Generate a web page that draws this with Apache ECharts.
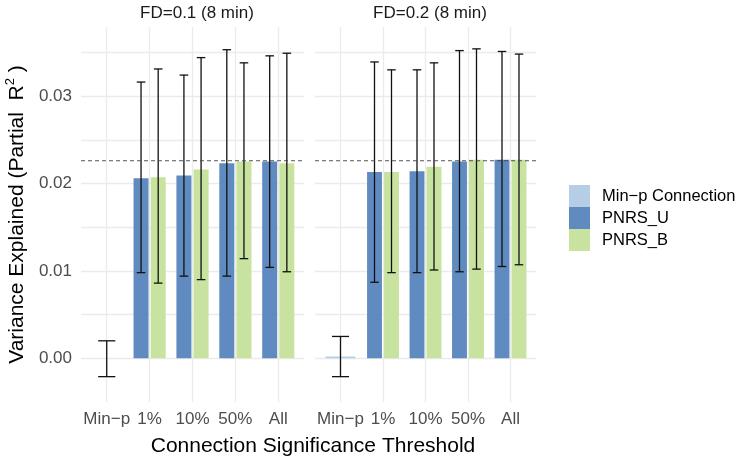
<!DOCTYPE html>
<html>
<head>
<meta charset="utf-8">
<title>Variance explained</title>
<script src="https://cdn.jsdelivr.net/npm/echarts@6/dist/echarts.min.js"></script>
<style>
  *{ margin:0; padding:0; }
  body{ background:#fff; }
  #chart{ width:745px; height:457px; }
</style>
</head>
<body>
<div id="chart"></div>
<script>
// data
var categories = ['Min\u2212p', '1%', '10%', '50%', 'All'];
var facets = ['FD=0.1 (8 min)', 'FD=0.2 (8 min)'];
var seriesNames = ['Min\u2212p Connection', 'PNRS_U', 'PNRS_B'];

// Min-p connection (only at the Min-p category): value, low, high
var minp01 = [0.0000, -0.0021, 0.0020];
var minp02 = [0.0002, -0.0021, 0.0025];

// PNRS at 1%, 10%, 50%, All
var pnrsU01 = [0.0206, 0.0209, 0.0223, 0.0225];
var pnrsU01Lo = [0.0098, 0.0094, 0.0094, 0.0104];
var pnrsU01Hi = [0.0316, 0.0324, 0.0353, 0.0346];
var pnrsB01 = [0.0207, 0.0216, 0.0225, 0.0223];
var pnrsB01Lo = [0.0086, 0.0090, 0.0114, 0.0099];
var pnrsB01Hi = [0.0331, 0.0344, 0.0338, 0.0349];

var pnrsU02 = [0.0213, 0.0214, 0.0225, 0.0227];
var pnrsU02Lo = [0.0087, 0.0098, 0.0099, 0.0105];
var pnrsU02Hi = [0.0339, 0.0330, 0.0352, 0.0351];
var pnrsB02 = [0.0213, 0.0219, 0.0227, 0.0227];
var pnrsB02Lo = [0.0098, 0.0101, 0.0102, 0.0107];
var pnrsB02Hi = [0.0330, 0.0338, 0.0354, 0.0348];

var refLine = 0.0226;

var colors = ['#b5cee5', '#5f8bc0', '#c8e29f'];
var font = 'Liberation Sans, Arial, sans-serif';
var xMin = -0.6, xMax = 4.6;

function barItem(width, cap) {
    return function (params, api) {
        var x = api.value(0), v = api.value(1), lo = api.value(2), hi = api.value(3);
        var p0 = api.coord([x - width / 2, v]);
        var p1 = api.coord([x + width / 2, 0]);
        var top = Math.min(p0[1], p1[1]);
        var h = Math.abs(p1[1] - p0[1]);
        var c = api.coord([x, hi]);
        var d = api.coord([x, lo]);
        var half = (api.coord([x + cap / 2, 0])[0] - c[0]);
        var ls = { stroke: '#111', lineWidth: 1.3 };
        return {
            type: 'group',
            children: [
                { type: 'rect', shape: { x: p0[0], y: top, width: p1[0] - p0[0], height: h },
                  style: { fill: api.visual('color') } },
                { type: 'line', shape: { x1: c[0], y1: c[1], x2: d[0], y2: d[1] }, style: ls },
                { type: 'line', shape: { x1: c[0] - half, y1: c[1], x2: c[0] + half, y2: c[1] }, style: ls },
                { type: 'line', shape: { x1: d[0] - half, y1: d[1], x2: d[0] + half, y2: d[1] }, style: ls }
            ]
        };
    };
}

function pnrsData(vals, lo, hi, offset) {
    return vals.map(function (v, i) { return [i + 1 + offset, v, lo[i], hi[i]]; });
}

var grids = [
    { left: 81, top: 27, width: 223, height: 375 },
    { left: 315, top: 27, width: 221, height: 375 }
];

var xAxes = [0, 1].map(function (g) {
    return {
        type: 'value', gridIndex: g, min: xMin, max: xMax,
        axisLine: { show: false },
        axisTick: { show: false, customValues: [0, 1, 2, 3, 4] },
        axisLabel: {
            customValues: [0, 1, 2, 3, 4],
            formatter: function (v) { return categories[Math.round(v)]; },
            color: '#4d4d4d', fontSize: 17, fontFamily: font, margin: 9
        },
        splitLine: { show: true, lineStyle: { color: '#ebebeb', width: 1.3 } }
    };
});

var yAxes = [0, 1].map(function (g) {
    return {
        type: 'value', gridIndex: g, min: -0.005, max: 0.0379, interval: 0.005,
        axisLine: { show: false },
        axisTick: { show: false },
        axisLabel: {
            show: g === 0,
            color: '#4d4d4d', fontSize: 17, fontFamily: font, margin: 9,
            formatter: function (v) {
                var k = v * 100;
                if (Math.abs(k - Math.round(k)) < 1e-6) return (Math.round(k) / 100).toFixed(2);
                return '';
            }
        },
        splitLine: { show: true, showMinLine: false, showMaxLine: false,
                     lineStyle: { color: '#ebebeb', width: 1.3 } },
        name: g === 0 ? '{a|Variance Explained (Partial  R}{s|2}{a| )}' : '',
        nameLocation: 'middle',
        nameGap: 51,
        nameRotate: 90,
        nameTextStyle: {
            rich: {
                a: { fontSize: 21, fontFamily: font, color: '#000', lineHeight: 26 },
                s: { fontSize: 13, fontFamily: font, color: '#000', verticalAlign: 'top', lineHeight: 26 }
            }
        }
    };
});

var minpSets = [minp01, minp02];
var uSets = [[pnrsU01, pnrsU01Lo, pnrsU01Hi], [pnrsU02, pnrsU02Lo, pnrsU02Hi]];
var bSets = [[pnrsB01, pnrsB01Lo, pnrsB01Hi], [pnrsB02, pnrsB02Lo, pnrsB02Hi]];

var series = [];
[0, 1].forEach(function (g) {
    var m = minpSets[g];
    series.push({
        name: seriesNames[0], type: 'custom', xAxisIndex: g, yAxisIndex: g,
        itemStyle: { color: colors[0] },
        renderItem: barItem(0.7, 0.4),
        data: [[0, m[0], m[1], m[2]]]
    });
    series.push({
        name: seriesNames[1], type: 'custom', xAxisIndex: g, yAxisIndex: g,
        itemStyle: { color: colors[1] },
        renderItem: barItem(0.35, 0.2),
        data: pnrsData(uSets[g][0], uSets[g][1], uSets[g][2], -0.2)
    });
    series.push({
        name: seriesNames[2], type: 'custom', xAxisIndex: g, yAxisIndex: g,
        itemStyle: { color: colors[2] },
        renderItem: barItem(0.35, 0.2),
        data: pnrsData(bSets[g][0], bSets[g][1], bSets[g][2], 0.2)
    });
    // dashed reference line across the panel
    series.push({
        name: 'ref', type: 'line', xAxisIndex: g, yAxisIndex: g,
        silent: true, symbol: 'none', z: 5,
        lineStyle: { type: [4, 3], color: '#444', width: 0.9 },
        data: [[xMin, refLine], [xMax, refLine]]
    });
});

var chart = echarts.init(document.getElementById('chart'), null, { renderer: 'canvas' });
chart.setOption({
    backgroundColor: '#fff',
    animation: false,
    title: [
        { text: facets[0], left: 192, top: 0, textAlign: 'center',
          textStyle: { fontSize: 17, fontWeight: 'normal', color: '#1a1a1a', fontFamily: font } },
        { text: facets[1], left: 425, top: 0, textAlign: 'center',
          textStyle: { fontSize: 17, fontWeight: 'normal', color: '#1a1a1a', fontFamily: font } },
        { text: 'Connection Significance Threshold', left: 308, top: 431, textAlign: 'center',
          textStyle: { fontSize: 21, fontWeight: 'normal', color: '#000', fontFamily: font } }
    ],
    legend: {
        orient: 'vertical', left: 569, top: 185, padding: 0,
        data: seriesNames,
        icon: 'rect', itemWidth: 21, itemHeight: 22, itemGap: 0,
        textStyle: { fontSize: 16.5, color: '#000', fontFamily: font, padding: [0, 0, 0, 7] },
        selectedMode: false
    },
    grid: grids,
    xAxis: xAxes,
    yAxis: yAxes,
    series: series
});
</script>
</body>
</html>
